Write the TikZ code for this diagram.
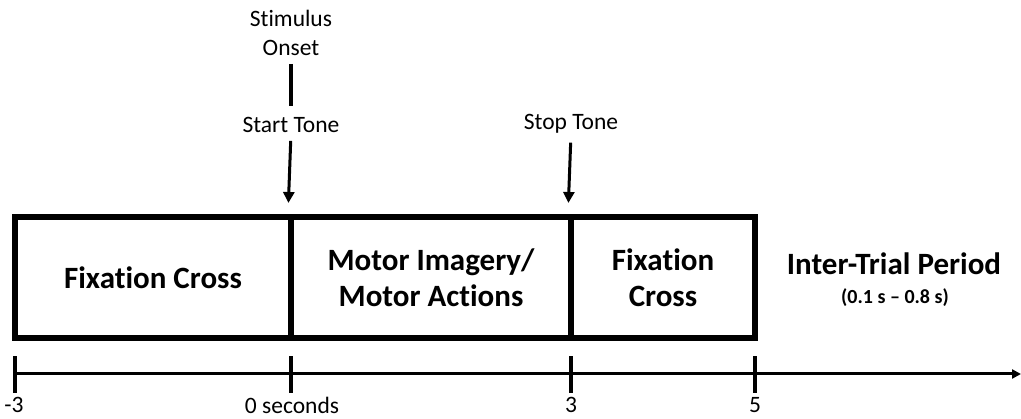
\documentclass[tikz,border=0pt]{standalone}
\usepackage{fontspec}
\setmainfont{Carlito}[Ligatures=NoCommon]
\usetikzlibrary{arrows.meta}
\begin{document}
\begin{tikzpicture}[x=1pt,y=-1pt,
  seg/.style={draw, line width=6pt, minimum height=121pt, inner sep=0pt,
    font=\fontsize{31}{36}\selectfont\bfseries, align=center},
  axis/.style={line width=3pt, -{Triangle[length=9pt,width=9pt]}},
  ticks/.style={line width=4pt},
  cue/.style={line width=3pt, -{Triangle[length=11pt,width=11pt]}},
  lbl/.style={font=\fontsize{23.5}{29}\selectfont, align=center, inner sep=0pt},
  num/.style={font=\fontsize{23.5}{28}\selectfont, inner sep=0pt},
]
\useasboundingbox (0,0) rectangle (1021,419);

% trial phases
\node[seg, minimum width=276pt] (fixA) at (153,277.5) {Fixation Cross};
\node[seg, minimum width=280pt] (motor) at (431,277.5) {Motor Imagery/\\Motor Actions};
\node[seg, minimum width=184pt] (fixB) at (663,277.5) {Fixation\\Cross};
\node[font=\fontsize{31}{36}\selectfont\bfseries, inner sep=0pt] (iti) at (894,264) {Inter-Trial Period};
\node[font=\fontsize{20}{24}\selectfont\bfseries, inner sep=0pt] (itirange) at (895,298) {(0.1 s -- 0.8 s)};

% cue labels and arrows
\node[lbl] (onset) at (291,33) {Stimulus\\Onset};
\node[lbl] (start) at (291,125) {Start Tone};
\node[lbl] (stop) at (571,124) {Stop Tone};
\draw[line width=3.5pt, shorten <=8pt, shorten >=11pt] (onset.south) -- (start.north);
\draw[cue, shorten <=8pt, shorten >=11pt] (start.south) -- (motor.north west);
\draw[cue, shorten <=9pt, shorten >=11pt] (stop.south) -- (fixB.north west);

% time axis
\coordinate (a0) at (15,374);
\coordinate (a1) at (291,374);
\coordinate (a2) at (571,374);
\coordinate (a3) at (755,374);
\coordinate (aend) at (1021,374);
\draw[axis] (a0) -- (aend);
\foreach \p in {a0,a1,a2,a3} \draw[ticks] ([yshift=-19pt]\p) -- ([yshift=18pt]\p);
\node[num] (l0) at (14,405) {-3};
\node[num] (l1) at (292,405) {0 seconds};
\node[num] (l2) at (571,405) {3};
\node[num] (l3) at (755,405) {5};
\end{tikzpicture}
\end{document}
